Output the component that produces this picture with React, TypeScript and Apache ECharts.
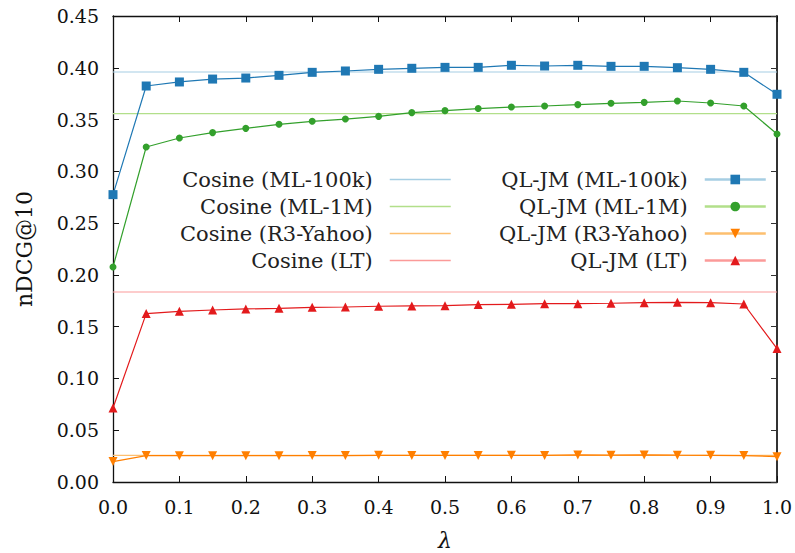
import React, { useEffect, useRef } from "react";
import * as echarts from "echarts";

const lambdas = [0.0, 0.05, 0.1, 0.15, 0.2, 0.25, 0.3, 0.35, 0.4, 0.45, 0.5, 0.55, 0.6, 0.65, 0.7, 0.75, 0.8, 0.85, 0.9, 0.95, 1.0];

const qlML100k = [0.2775, 0.3824, 0.3863, 0.3891, 0.3901, 0.3927, 0.3956, 0.3969, 0.3985, 0.3995, 0.4004, 0.4004, 0.4024, 0.4017, 0.4024, 0.4014, 0.4014, 0.4001, 0.3985, 0.3956, 0.3744];
const qlML1M = [0.2076, 0.3235, 0.3322, 0.3374, 0.3415, 0.3454, 0.3483, 0.3505, 0.3531, 0.3567, 0.3586, 0.3606, 0.3621, 0.3631, 0.3644, 0.3657, 0.3666, 0.3679, 0.3660, 0.3631, 0.3360];
const qlR3 = [0.0197, 0.0255, 0.0254, 0.0254, 0.0254, 0.0254, 0.0255, 0.0255, 0.0258, 0.0257, 0.0257, 0.0257, 0.0258, 0.0257, 0.0261, 0.0259, 0.0261, 0.0259, 0.0258, 0.0255, 0.0245];
const qlLT = [0.0715, 0.1626, 0.1648, 0.1661, 0.1671, 0.1677, 0.1687, 0.1690, 0.1697, 0.1700, 0.1703, 0.1713, 0.1716, 0.1722, 0.1722, 0.1726, 0.1732, 0.1735, 0.1732, 0.1719, 0.1288];

const cosineNames = ["Cosine (ML-100k)", "Cosine (ML-1M)", "Cosine (R3-Yahoo)", "Cosine (LT)"];
const cosineValues = [0.3959, 0.3557, 0.0258, 0.1835];
const qlNames = ["QL-JM (ML-100k)", "QL-JM (ML-1M)", "QL-JM (R3-Yahoo)", "QL-JM (LT)"];
const yTicks = ["0.00", "0.05", "0.10", "0.15", "0.20", "0.25", "0.30", "0.35", "0.40", "0.45"];

const lightColors = ["#a6cee3", "#b2df8a", "#fdbf6f", "#fb9a99"];
const darkColors = ["#1f78b4", "#33a02c", "#ff7f00", "#e31a1c"];

const FONT = "DejaVu Serif";

export default function App() {
  const ref = useRef<HTMLDivElement>(null);
  useEffect(() => {
    if (!ref.current) return;
    const chart = echarts.init(ref.current, undefined, { renderer: "svg" });
    const qlData = [qlML100k, qlML1M, qlR3, qlLT];
    const symbols = ["rect", "circle", "triangle", "triangle"];
    const symSizes = [9, 7, 9, 9];
    const symRot = [0, 0, 180, 0];

    const cosineSeries = cosineNames.map((n, i) => ({
      name: n,
      type: "line",
      xAxisIndex: 0,
      yAxisIndex: 0,
      symbol: "none",
      data: [[0, cosineValues[i]], [1, cosineValues[i]]],
      lineStyle: { color: lightColors[i], width: 1.2 },
      itemStyle: { color: lightColors[i] },
      z: 1,
    }));
    const qlSeries = qlNames.map((n, i) => ({
      name: n,
      type: "line",
      xAxisIndex: 0,
      yAxisIndex: 0,
      symbol: symbols[i],
      symbolSize: symSizes[i],
      symbolRotate: symRot[i],
      showAllSymbol: true,
      data: lambdas.map((x, j) => [x, qlData[i][j]]),
      lineStyle: { color: darkColors[i], width: 1.2 },
      itemStyle: { color: darkColors[i] },
      z: 3,
    }));

    const legendText = {
      fontFamily: FONT,
      fontSize: 21,
      color: "#222",
      lineHeight: 20,
      rich: { a: { fontFamily: FONT, fontSize: 21, color: "#222", lineHeight: 20, padding: [0, 12, 0, 0] } },
    };

    const option = {
      animation: false,
      backgroundColor: "#fff",
      grid: { left: 113, right: 18, top: 16, bottom: 71, containLabel: false, outerBoundsMode: "none" },
      legend: [
        {
          orient: "vertical",
          left: 180,
          top: 169,
          align: "right",
          padding: 0,
          itemWidth: 61,
          itemHeight: 12,
          itemGap: 6.0,
          selectedMode: false,
          formatter: "{a|{name}}",
          textStyle: legendText,
          data: cosineNames.map((n, i) => ({
            name: n,
            lineStyle: { color: lightColors[i], width: 1.5 },
            itemStyle: { opacity: 0 },
          })),
        },
        {
          orient: "vertical",
          left: 499,
          top: 169,
          align: "right",
          padding: 0,
          itemWidth: 61,
          itemHeight: 12,
          itemGap: 6.0,
          selectedMode: false,
          formatter: "{a|{name}}",
          textStyle: legendText,
          data: qlNames.map((n, i) => ({ name: n, lineStyle: { color: lightColors[i], width: 2.5 } })),
        },
      ],
      xAxis: [
        {
          type: "value",
          min: 0,
          max: 1,
          interval: 0.1,
          name: "λ",
          nameLocation: "middle",
          nameGap: 47,
          nameTextStyle: { fontFamily: FONT, fontSize: 22, fontStyle: "italic", color: "#111" },
          axisLine: { show: true, onZero: false, lineStyle: { color: "#111", width: 1.3 } },
          axisTick: { show: true, inside: true, length: 6, lineStyle: { color: "#111" } },
          axisLabel: { fontFamily: FONT, fontSize: 19, color: "#111", margin: 15, formatter: (v: number) => v.toFixed(1) },
          splitLine: { show: false },
        },
        {
          type: "value",
          position: "top",
          min: 0,
          max: 1,
          interval: 0.1,
          axisLine: { show: true, onZero: false, lineStyle: { color: "#111", width: 1.3 } },
          axisTick: { show: true, inside: true, length: 6, lineStyle: { color: "#111" } },
          axisLabel: { show: false },
          splitLine: { show: false },
        },
      ],
      yAxis: [
        {
          type: "value",
          min: 0,
          max: 0.45,
          interval: 0.05,
          name: "nDCG@10",
          nameLocation: "middle",
          nameGap: 78,
          nameRotate: 90,
          nameTextStyle: { fontFamily: FONT, fontSize: 22, color: "#111" },
          axisLine: { show: true, onZero: false, lineStyle: { color: "#111", width: 1.3 } },
          axisTick: { show: true, inside: true, length: 6, lineStyle: { color: "#111" } },
          axisLabel: { fontFamily: FONT, fontSize: 19, color: "#111", margin: 14, formatter: (v: number) => yTicks[Math.round(v / 0.05)] },
          splitLine: { show: false },
        },
        {
          type: "value",
          position: "right",
          min: 0,
          max: 0.45,
          interval: 0.05,
          axisLine: { show: true, onZero: false, lineStyle: { color: "#333", width: 2 } },
          axisTick: { show: true, inside: true, length: 6, lineStyle: { color: "#333" } },
          axisLabel: { show: false },
          splitLine: { show: false },
        },
      ],
      series: [...cosineSeries, ...qlSeries],
    };
    chart.setOption(option as any);
    return () => chart.dispose();
  }, []);
  return <div ref={ref} style={{ width: 795, height: 553, position: "absolute", left: 0, top: 0 }} />;
}
